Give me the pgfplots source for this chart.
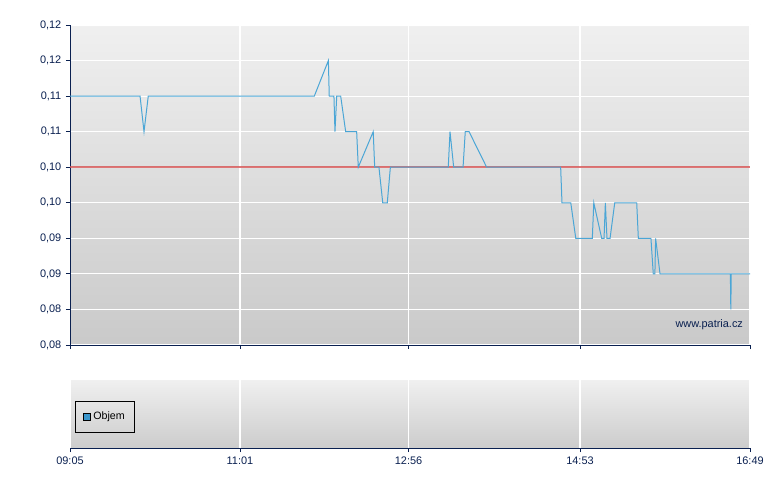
\documentclass[border=0pt]{standalone}
\usepackage{fontspec}
\setmainfont{Liberation Sans}
\usepackage{pgfplots}
\pgfplotsset{compat=1.18}
\definecolor{navy}{HTML}{0A2050}
\definecolor{lineblue}{HTML}{4BA6D6}
\definecolor{refred}{HTML}{D65454}
\definecolor{legblue}{HTML}{3A96CC}
\begin{document}
\begin{tikzpicture}[x=1pt,y=1pt]
\path (0,0) rectangle (585,367.5);
% main price panel
\begin{axis}[
  at={(52.5pt,108.75pt)}, anchor=south west,
  scale only axis, width=510pt, height=240pt,
  xmin=0, xmax=464, ymin=0.08, ymax=0.1205,
  axis x line*=bottom, axis y line*=left,
  axis line style={-, draw=navy, line width=0.6pt},
  xtick={0,116,231,348,464}, xticklabels={},
  ytick={0.08,0.0845,0.089,0.0935,0.098,0.1025,0.107,0.1115,0.116,0.1205},
  yticklabels={{0,08},{0,08},{0,09},{0,09},{0,10},{0,10},{0,11},{0,11},{0,12},{0,12}},
  tick align=outside, major tick length=3pt,
  tick style={draw=navy, line width=0.6pt},
  ticklabel style={font=\fontsize{8.2}{9}\selectfont, text=navy},
  grid=major, major grid style={white, line width=0.8pt},
  axis background/.style={top color=black!6, bottom color=black!21},
  clip=false,
]
\addplot[draw=refred, line width=0.1pt, forget plot] coordinates {(0,0.1025) (0,0.1025)};
\addplot[draw=refred, line width=1.1pt, draw opacity=0.8] coordinates {(0,0.1025) (464,0.1025)};
\addplot[draw=lineblue, line width=0.75pt] coordinates {
(0,0.1115) (47.8,0.1115) (50.5,0.107) (53.4,0.1115) (166.7,0.1115)
(176.3,0.116) (176.9,0.1115) (180.1,0.1115) (180.8,0.107) (182.0,0.1115)
(184.7,0.1115) (188.1,0.107) (195.6,0.107) (196.7,0.1025) (206.9,0.107)
(207.9,0.1025) (210.8,0.1025) (213.4,0.098) (216.5,0.098) (218.6,0.1025)
(258.1,0.1025) (259.3,0.107) (261.8,0.1025) (268.2,0.1025) (269.7,0.107)
(272.3,0.107) (284.3,0.1025) (334.8,0.1025) (335.7,0.098) (341.7,0.098)
(345.1,0.0935) (356.4,0.0935) (357.4,0.098) (362.8,0.0935) (364.4,0.0935)
(365.3,0.098) (366.4,0.0935) (368.5,0.0935) (371.7,0.098) (386.7,0.098)
(387.8,0.0935) (396.4,0.0935) (398.0,0.089) (399.1,0.089) (399.6,0.0935)
(402.6,0.089) (450.6,0.089) (450.9,0.0845) (451.2,0.089) (464,0.089)
};
\node[anchor=east, text=navy, font=\fontsize{8.2}{9}\selectfont, inner sep=0pt]
  at (rel axis cs:0.99,0.065) {www.patria.cz};
\end{axis}
% volume panel
\begin{axis}[
  at={(52.5pt,31.5pt)}, anchor=south west,
  scale only axis, width=510pt, height=51pt,
  xmin=0, xmax=464, ymin=0, ymax=1,
  axis x line*=bottom, axis y line=none,
  axis line style={-, draw=navy, line width=0.6pt},
  xtick={0,116,231,348,464},
  xticklabels={09:05,11:01,12:56,14:53,16:49},
  ytick=\empty,
  tick align=outside, major tick length=3pt,
  tick style={draw=navy, line width=0.6pt},
  ticklabel style={font=\fontsize{8.2}{9}\selectfont, text=navy},
  xmajorgrids, major grid style={white, line width=0.8pt},
  axis background/.style={top color=black!6, bottom color=black!20},
  legend style={at={(rel axis cs:0.008,0.22)}, anchor=south west,
    draw=black, line width=0.6pt, fill=none, font=\fontsize{8}{9}\selectfont,
    inner xsep=5pt, inner ysep=6pt},
]
\addlegendimage{legend image code/.code={\draw[fill=legblue, draw=black, line width=0.6pt] (0pt,-2.8pt) rectangle (5.5pt,3pt);}}
\addlegendentry{Objem}
\end{axis}
\end{tikzpicture}
\end{document}
